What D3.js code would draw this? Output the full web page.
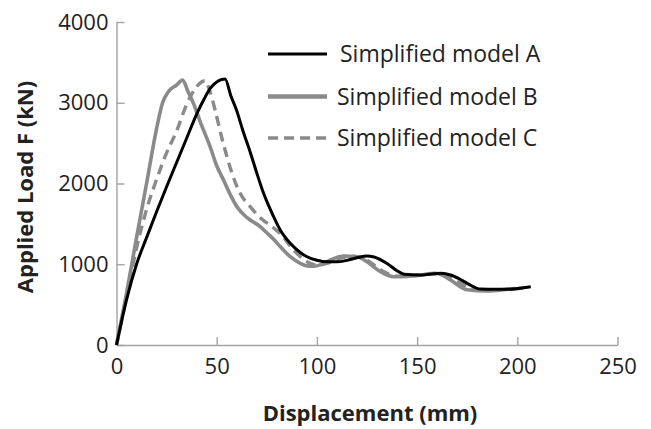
<!DOCTYPE html>
<html>
<head>
<meta charset="utf-8">
<script src="https://cdn.jsdelivr.net/npm/d3@7"></script>
<style>
  html, body { margin: 0; padding: 0; background: #fff; }
  svg { display: block; }
  text { font-family: "Open Sans", "Noto Sans", sans-serif; fill: #222; }
</style>
</head>
<body>
<script>
// Load–displacement response of three simplified models
const xTicks = [0, 50, 100, 150, 200, 250];
const yTicks = [0, 1000, 2000, 3000, 4000];

const seriesNames = ["Simplified model A", "Simplified model B", "Simplified model C"];

// [displacement (mm), load (kN)]
const modelA = [
  [0, 0], [5, 560], [10, 1000], [15, 1330], [20, 1650], [25, 1960], [30, 2260],
  [35, 2560], [40, 2860], [44, 3060], [47, 3185], [54.2, 3294], [57, 3090],
  [60, 2900], [63, 2660], [66.7, 2390], [70, 2130], [73.4, 1878], [78.4, 1589],
  [81.7, 1424], [86.7, 1259], [92, 1140], [95.1, 1093], [100, 1050], [105, 1030],
  [110, 1030], [115, 1048], [120, 1080], [125, 1102], [128.5, 1090], [135, 1010],
  [140, 920], [143.5, 875], [151.7, 867], [157, 880], [162, 888], [166.7, 867],
  [171, 820], [175, 764], [181.7, 692], [195, 690], [206.7, 722]
];

const modelB = [
  [0, 0], [5, 640], [10, 1330], [15, 2000], [20, 2680], [23, 3000], [26, 3140],
  [30, 3220], [33, 3282], [35.5, 3150], [38.4, 2993], [42, 2750], [46.8, 2450],
  [50, 2220], [53.4, 2043], [57, 1850], [60.1, 1713], [65, 1580], [71.75, 1465],
  [75, 1390], [78.4, 1310], [82, 1210], [86.7, 1093], [91.7, 1012], [95.1, 980],
  [98.4, 975], [102, 995], [106.7, 1053], [113.4, 1102], [120, 1093], [125, 1032],
  [131.7, 908], [138.4, 846], [145, 850], [151.7, 867], [159, 888], [163, 860],
  [166.7, 805], [175, 685], [185, 669], [195, 690], [199, 700]
];

const modelC = [
  [0, 0], [5, 600], [10, 1200], [15, 1680], [20, 2050], [25, 2380], [30, 2650],
  [35, 2980], [40, 3200], [44.2, 3273], [46.5, 3150], [49.2, 2910], [52, 2620],
  [55.1, 2332], [58, 2100], [61.7, 1878], [66.7, 1713], [72, 1570], [77.6, 1465],
  [82, 1370], [88.4, 1176], [95.1, 1032], [100, 990], [105, 1010], [110, 1060],
  [117, 1100], [122, 1090], [128, 1000], [134, 900], [140, 852], [150, 860],
  [158, 880], [164, 860], [170, 790], [177, 700], [185, 675], [195, 690], [203, 708]
];

const W = 651, H = 429;
const svg = d3.select("body").append("svg").attr("width", W).attr("height", H);

const x = d3.scaleLinear().domain([0, 250]).range([116.5, 617.5]);
const y = d3.scaleLinear().domain([0, 4000]).range([345, 22]);

const axisColor = "#a3a3a3";
const fmt = d3.format("d");

// x axis with inward ticks
const gx = svg.append("g").attr("transform", `translate(0,${y(0)})`)
  .call(d3.axisBottom(x).tickValues(xTicks).tickFormat(fmt)
    .tickSizeInner(-8).tickSizeOuter(0).tickPadding(13));
// y axis with inward ticks
const gy = svg.append("g").attr("transform", `translate(${x(0)},0)`)
  .call(d3.axisLeft(y).tickValues(yTicks).tickFormat(fmt)
    .tickSizeInner(-8).tickSizeOuter(0).tickPadding(8));

[gx, gy].forEach(g => {
  g.select(".domain").attr("stroke", axisColor).attr("stroke-width", 1.4);
  g.selectAll(".tick line").attr("stroke", axisColor).attr("stroke-width", 1.4);
  g.selectAll(".tick text").attr("font-size", 22).attr("fill", "#222")
    .attr("font-family", "'Open Sans', sans-serif");
});
gx.selectAll(".tick text").attr("dy", "0.71em");

// axis titles
svg.append("text")
  .attr("x", 370).attr("y", 421)
  .attr("text-anchor", "middle")
  .attr("font-size", 22).attr("font-weight", "bold")
  .text("Displacement (mm)");

svg.append("text")
  .attr("transform", "translate(33,187) rotate(-90)")
  .attr("text-anchor", "middle")
  .attr("font-size", 22).attr("font-weight", "bold")
  .text("Applied Load F (kN)");

const styles = [
  { data: modelA, color: "#000", width: 3, dash: null },
  { data: modelB, color: "#8a8a8a", width: 3.6, dash: null },
  { data: modelC, color: "#8a8a8a", width: 3.4, dash: "10,6" }
];

const line = d3.line()
  .x(d => x(d[0]))
  .y(d => y(d[1]))
  .curve(d3.curveMonotoneX);

// draw B, C, then A on top
[1, 2, 0].forEach(i => {
  const s = styles[i];
  svg.append("path")
    .attr("d", line(s.data))
    .attr("fill", "none")
    .attr("stroke", s.color)
    .attr("stroke-width", s.width)
    .attr("stroke-dasharray", s.dash)
    .attr("stroke-linejoin", "round");
});

// legend
const legendY = [54, 96.5, 138];
const legendTextX = [340, 337, 337];
seriesNames.forEach((name, i) => {
  const s = styles[i];
  svg.append("line")
    .attr("x1", 268).attr("x2", 327)
    .attr("y1", legendY[i]).attr("y2", legendY[i])
    .attr("stroke", s.color)
    .attr("stroke-width", i === 1 ? 4.5 : s.width)
    .attr("stroke-dasharray", s.dash);
  svg.append("text")
    .attr("x", legendTextX[i]).attr("y", legendY[i])
    .attr("dy", "0.36em")
    .attr("font-size", 23)
    .text(name);
});
</script>
</body>
</html>
